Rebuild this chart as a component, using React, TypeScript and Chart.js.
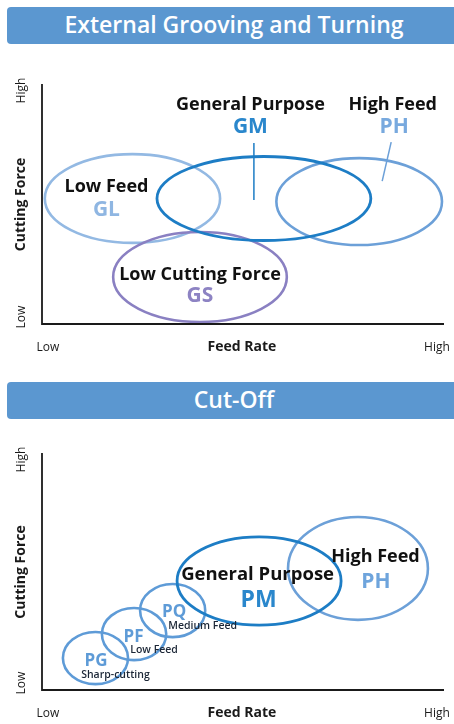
import React, { useEffect, useRef } from 'react';
import { Chart, registerables } from 'chart.js';

Chart.register(...registerables);

// ---------- Data: External Grooving and Turning ----------
const groovingTitle = 'External Grooving and Turning';
const groovingCodes = ['GL', 'GS', 'PH', 'GM'];
const groovingNames = ['Low Feed', 'Low Cutting Force', 'High Feed', 'General Purpose'];
const groovingFeed = [22.5, 39.3, 78.9, 55.2];
const groovingForce = [52.3, 19.6, 51.0, 52.3];
const groovingFeedSpread = [21.8, 21.6, 20.6, 26.6];
const groovingForceSpread = [18.5, 18.75, 18.1, 17.5];

// ---------- Data: Cut-Off ----------
const cutoffTitle = 'Cut-Off';
const cutoffCodes = ['PG', 'PF', 'PQ', 'PH', 'PM'];
const cutoffNames = ['', '', '', 'High Feed', 'General Purpose'];
const cutoffNotes = ['Sharp-cutting', 'Low Feed', 'Medium Feed', '', ''];
const cutoffFeed = [13.3, 22.9, 32.5, 78.6, 54.0];
const cutoffForce = [13.5, 23.6, 33.5, 51.3, 46.0];
const cutoffFeedSpread = [8.1, 8.0, 8.1, 17.4, 20.4];
const cutoffForceSpread = [11.0, 11.0, 11.2, 21.7, 18.6];

// ---------- Axis text ----------
const axisTickLabels = ['Low', 'High'];
const xAxisTitle = 'Feed Rate';
const yAxisTitle = 'Cutting Force';

// ---------- Styles ----------
const FONT = '"Open Sans", "Noto Sans", sans-serif';
const HEADER_BG = '#5b97d0';

type LabelLayout = {
  name?: [number, number];
  code: [number, number];
  note?: [number, number];
  leader?: [number, number, number, number];
};
type EllipseStyle = { stroke: string; width: number; codeColor: string; codeSize: number; nameSize: number };

const groovingStyle: Record<string, EllipseStyle> = {
  GL: { stroke: '#93b9e3', width: 2.6, codeColor: '#8fb6e2', codeSize: 21, nameSize: 18 },
  GS: { stroke: '#8a80c2', width: 2.6, codeColor: '#8d83c3', codeSize: 21, nameSize: 18 },
  PH: { stroke: '#6ca0d8', width: 2.6, codeColor: '#78a9de', codeSize: 21, nameSize: 18 },
  GM: { stroke: '#1d7dc5', width: 2.8, codeColor: '#2a87cc', codeSize: 21, nameSize: 18 },
};
const groovingLayout: Record<string, LabelLayout> = {
  GL: { name: [-26, -6.5], code: [-26, 17.5] },
  GS: { name: [0, 3], code: [0, 25] },
  PH: { name: [33.5, -91.5], code: [35, -68.5], leader: [32, -59.5, 23, -20.5] },
  GM: { name: [-13.5, -88.5], code: [-13.5, -65.5], leader: [-10, -55.5, -10, 1.5] },
};

const cutoffStyle: Record<string, EllipseStyle> = {
  PG: { stroke: '#5e9bd7', width: 2.6, codeColor: '#5e9bd7', codeSize: 17, nameSize: 18 },
  PF: { stroke: '#5e9bd7', width: 2.6, codeColor: '#5e9bd7', codeSize: 17, nameSize: 18 },
  PQ: { stroke: '#5e9bd7', width: 2.6, codeColor: '#5e9bd7', codeSize: 17, nameSize: 18 },
  PH: { stroke: '#6ca0d8', width: 2.6, codeColor: '#6ea4dc', codeSize: 21, nameSize: 18 },
  PM: { stroke: '#1d7dc5', width: 2.8, codeColor: '#2a87cc', codeSize: 23, nameSize: 18.5 },
};
const cutoffLayout: Record<string, LabelLayout> = {
  PG: { code: [0.5, 8], note: [20, 20] },
  PF: { code: [-0.5, 8], note: [20, 19] },
  PQ: { code: [1.5, 6.5], note: [30, 18.5] },
  PH: { name: [17.5, -6.5], code: [18, 19.5] },
  PM: { name: [-1.5, -1], code: [-0.5, 26] },
};

// ---------- Plugins ----------
const ellipsePlugin = {
  id: 'ellipses',
  afterDatasetsDraw(chart: any) {
    const { ctx } = chart;
    const xs = chart.scales.x;
    const ys = chart.scales.y;
    chart.data.datasets.forEach((ds: any) => {
      ds.data.forEach((p: any) => {
        const cx = xs.getPixelForValue(p.x);
        const cy = ys.getPixelForValue(p.y);
        const rx = Math.abs(xs.getPixelForValue(p.x + p.rx) - cx);
        const ry = Math.abs(ys.getPixelForValue(p.y + p.ry) - cy);
        ctx.save();
        ctx.beginPath();
        ctx.ellipse(cx, cy, rx, ry, 0, 0, Math.PI * 2);
        ctx.strokeStyle = ds.borderColor;
        ctx.lineWidth = ds.borderWidth;
        ctx.stroke();
        ctx.restore();
      });
    });
  },
};

const axisPlugin = {
  id: 'axisFrame',
  afterDraw(chart: any) {
    const { ctx, chartArea: a } = chart;
    ctx.save();
    ctx.strokeStyle = '#1a1a1a';
    ctx.lineWidth = 1.8;
    ctx.beginPath();
    ctx.moveTo(a.left, a.top);
    ctx.lineTo(a.left, a.bottom);
    ctx.lineTo(a.right, a.bottom);
    ctx.stroke();

    ctx.fillStyle = '#1a1a1a';
    ctx.textAlign = 'center';
    ctx.textBaseline = 'alphabetic';
    const by = a.bottom + 26.5;
    ctx.font = `400 12px ${FONT}`;
    ctx.fillText(axisTickLabels[0], a.left + 6, by);
    ctx.fillText(axisTickLabels[1], a.right - 7, by);
    ctx.font = `700 14px ${FONT}`;
    ctx.fillText(xAxisTitle, (a.left + a.right) / 2 - 1, by);

    const rot = (text: string, y: number, font: string) => {
      ctx.save();
      ctx.translate(24.5, y);
      ctx.rotate(-Math.PI / 2);
      ctx.font = font;
      ctx.fillText(text, 0, 0);
      ctx.restore();
    };
    rot(axisTickLabels[1], a.top + 6.5, `400 12px ${FONT}`);
    rot(axisTickLabels[0], a.bottom - 7, `400 12px ${FONT}`);
    rot(yAxisTitle, (a.top + a.bottom) / 2 + 0.5, `700 14px ${FONT}`);
    ctx.restore();
  },
};

function makeLabelPlugin(
  codes: string[],
  names: string[],
  notes: string[],
  style: Record<string, EllipseStyle>,
  layout: Record<string, LabelLayout>
) {
  return {
    id: 'ellipseLabels',
    afterDraw(chart: any) {
      const { ctx } = chart;
      const xs = chart.scales.x;
      const ys = chart.scales.y;
      chart.data.datasets.forEach((ds: any, i: number) => {
        const p = ds.data[0];
        const cx = xs.getPixelForValue(p.x);
        const cy = ys.getPixelForValue(p.y);
        const code = codes[i];
        const st = style[code];
        const lay = layout[code];
        ctx.save();
        ctx.textAlign = 'center';
        ctx.textBaseline = 'alphabetic';
        if (lay.leader) {
          const [x1, y1, x2, y2] = lay.leader;
          ctx.strokeStyle = st.stroke;
          ctx.lineWidth = 1.5;
          ctx.beginPath();
          ctx.moveTo(cx + x1, cy + y1);
          ctx.lineTo(cx + x2, cy + y2);
          ctx.stroke();
        }
        if (lay.name && names[i]) {
          ctx.font = `700 ${st.nameSize}px ${FONT}`;
          ctx.fillStyle = '#111111';
          ctx.fillText(names[i], cx + lay.name[0], cy + lay.name[1]);
        }
        ctx.font = `700 ${st.codeSize}px ${FONT}`;
        ctx.fillStyle = st.codeColor;
        ctx.fillText(code, cx + lay.code[0], cy + lay.code[1]);
        if (lay.note && notes[i]) {
          ctx.font = `600 10.5px ${FONT}`;
          ctx.fillStyle = '#1b2636';
          ctx.fillText(notes[i], cx + lay.note[0], cy + lay.note[1]);
        }
        ctx.restore();
      });
    },
  };
}

function buildConfig(
  codes: string[],
  names: string[],
  notes: string[],
  feed: number[],
  force: number[],
  feedSpread: number[],
  forceSpread: number[],
  style: Record<string, EllipseStyle>,
  layout: Record<string, LabelLayout>,
  padding: { top: number; bottom: number; left: number; right: number }
): any {
  return {
    type: 'scatter',
    data: {
      datasets: codes.map((c, i) => ({
        label: c,
        data: [{ x: feed[i], y: force[i], rx: feedSpread[i], ry: forceSpread[i] }],
        borderColor: style[c].stroke,
        backgroundColor: 'transparent',
        borderWidth: style[c].width,
        pointRadius: 0,
      })),
    },
    options: {
      responsive: false,
      animation: false,
      events: [],
      layout: { padding },
      scales: {
        x: { display: false, type: 'linear', min: 0, max: 100 },
        y: { display: false, type: 'linear', min: 0, max: 100 },
      },
      plugins: { legend: { display: false }, tooltip: { enabled: false } },
    },
    plugins: [ellipsePlugin, axisPlugin, makeLabelPlugin(codes, names, notes, style, layout)],
  };
}

function ChartCanvas({ config, width, height }: { config: () => any; width: number; height: number }) {
  const ref = useRef<HTMLCanvasElement | null>(null);
  useEffect(() => {
    if (!ref.current) return;
    const chart = new Chart(ref.current, config());
    return () => chart.destroy();
  }, []);
  return <canvas ref={ref} width={width} height={height} style={{ display: 'block', width, height }} />;
}

function Header({ text, top }: { text: string; top: number }) {
  return (
    <div
      style={{
        position: 'absolute',
        left: 7,
        top,
        width: 454,
        height: 37,
        background: HEADER_BG,
        borderRadius: 4,
        color: '#ffffff',
        fontFamily: FONT,
        fontWeight: 600,
        fontSize: 23,
        lineHeight: '37px',
        textAlign: 'center',
        whiteSpace: 'nowrap',
      }}
    >
      <span style={{ display: 'inline-block', position: 'relative', top: -1.5 }}>{text}</span>
    </div>
  );
}

export default function App() {
  return (
    <div
      style={{
        position: 'absolute',
        left: 0,
        top: 0,
        width: 454,
        height: 724,
        overflow: 'hidden',
        background: '#ffffff',
      }}
    >
      <Header text={groovingTitle} top={7} />
      <div style={{ position: 'absolute', left: 0, top: 50, width: 454, height: 320 }}>
        <ChartCanvas
          width={454}
          height={320}
          config={() =>
            buildConfig(
              groovingCodes,
              groovingNames,
              [],
              groovingFeed,
              groovingForce,
              groovingFeedSpread,
              groovingForceSpread,
              groovingStyle,
              groovingLayout,
              { top: 34, bottom: 46, left: 42, right: 10 }
            )
          }
        />
      </div>
      <Header text={cutoffTitle} top={382} />
      <div style={{ position: 'absolute', left: 0, top: 424, width: 454, height: 300 }}>
        <ChartCanvas
          width={454}
          height={300}
          config={() =>
            buildConfig(
              cutoffCodes,
              cutoffNames,
              cutoffNotes,
              cutoffFeed,
              cutoffForce,
              cutoffFeedSpread,
              cutoffForceSpread,
              cutoffStyle,
              cutoffLayout,
              { top: 29, bottom: 34, left: 42, right: 10 }
            )
          }
        />
      </div>
    </div>
  );
}
